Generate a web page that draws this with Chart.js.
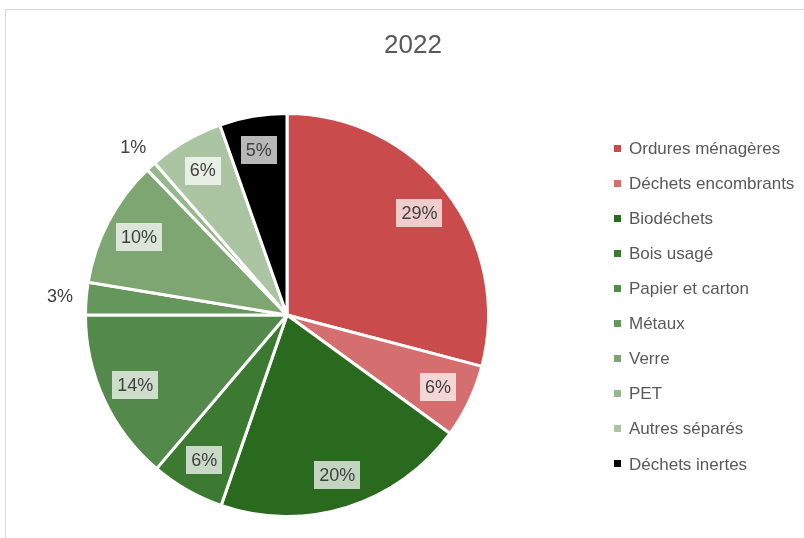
<!DOCTYPE html>
<html lang="fr">
<head>
<meta charset="utf-8">
<title>2022</title>
<script src="https://cdn.jsdelivr.net/npm/chart.js@4.4.1/dist/chart.umd.min.js"></script>
<style>
  html, body { margin: 0; padding: 0; background: #fff; overflow: hidden; }
  #wrap { position: absolute; left: 0; top: 0; width: 804px; height: 538px; }
  #cadre { position: absolute; left: 5px; top: 9px; width: 830px; height: 560px; border: 1px solid #d9d9d9; pointer-events: none; }
</style>
</head>
<body>
<div id="wrap"><canvas id="chart-dechets" width="804" height="538"></canvas></div>
<div id="cadre"></div>
<script>
// Composition des déchets 2022 – camembert

const titre = "2022";

const categories = [
  "Ordures ménagères",
  "Déchets encombrants",
  "Biodéchets",
  "Bois usagé",
  "Papier et carton",
  "Métaux",
  "Verre",
  "PET",
  "Autres séparés",
  "Déchets inertes",
];

// parts en %
const valeurs = [29.1, 5.9, 20.3, 5.9, 13.8, 2.6, 10.2, 0.8, 6.0, 5.4];

const couleurs = [
  "#CA4B4B",
  "#D56E6E",
  "#2A6A1E",
  "#3C7A32",
  "#53894A",
  "#65965B",
  "#7DA673",
  "#95B78B",
  "#ABC5A2",
  "#000000",
];

const POLICE = '"Liberation Sans Narrow", "Liberation Sans", Arial, sans-serif';

// Etiquettes de pourcentage (boîte blanche translucide dans la part, texte seul à l'extérieur pour les petites parts)
const etiquettesPlugin = {
  id: "etiquettes",
  afterDatasetsDraw(chart) {
    const ctx = chart.ctx;
    const meta = chart.getDatasetMeta(0);
    const total = valeurs.reduce((a, b) => a + b, 0);

    ctx.save();
    ctx.font = "18px " + POLICE;
    ctx.textAlign = "center";
    ctx.textBaseline = "middle";

    meta.data.forEach((arc, i) => {
      const p = arc.getProps(["x", "y", "startAngle", "endAngle", "outerRadius"], true);
      const pct = Math.round((valeurs[i] / total) * 100);
      const texte = pct + "%";
      const milieu = (p.startAngle + p.endAngle) / 2;
      const dehors = pct < 4;
      const dist = dehors ? p.outerRadius * 1.13 : p.outerRadius * 0.83;
      const lx = p.x + Math.cos(milieu) * dist;
      const ly = p.y + Math.sin(milieu) * dist;

      if (!dehors) {
        const w = ctx.measureText(texte).width + 10;
        const h = 28;
        ctx.fillStyle = "rgba(255,255,255,0.72)";
        ctx.fillRect(Math.round(lx - w / 2), Math.round(ly - h / 2), Math.round(w), h);
      }
      ctx.fillStyle = "#404040";
      ctx.fillText(texte, lx, ly + 1);
    });
    ctx.restore();
  },
};

// Titre + légende à droite (dessinés à la main pour garder le camembert à gauche)
const decorPlugin = {
  id: "decor",
  afterDraw(chart) {
    const ctx = chart.ctx;
    const couleursDs = chart.data.datasets[0].backgroundColor;
    ctx.save();

    ctx.fillStyle = "#595959";
    ctx.font = "26px " + POLICE;
    ctx.textAlign = "center";
    ctx.textBaseline = "middle";
    ctx.fillText(titre, 413, 46);

    ctx.font = "17px " + POLICE;
    ctx.textAlign = "left";
    const x0 = 614;
    const y0 = 148;
    const pas = 35.1;
    chart.data.labels.forEach((lab, i) => {
      const y = y0 + i * pas;
      ctx.fillStyle = couleursDs[i];
      ctx.fillRect(x0, Math.round(y - 3.5), 7, 7);
      ctx.fillStyle = "#595959";
      ctx.fillText(lab, 629, y + 1);
    });
    ctx.restore();
  },
};

const ctx = document.getElementById("chart-dechets").getContext("2d");

new Chart(ctx, {
  type: "pie",
  data: {
    labels: categories,
    datasets: [{
      data: valeurs,
      backgroundColor: couleurs,
      borderColor: "#ffffff",
      borderWidth: 3,
    }],
  },
  options: {
    responsive: false,
    devicePixelRatio: 1,
    animation: false,
    layout: {
      padding: { left: 84, right: 314, top: 112, bottom: 20 },
    },
    plugins: {
      legend: { display: false },
      tooltip: { enabled: false },
      title: { display: false },
    },
  },
  plugins: [etiquettesPlugin, decorPlugin],
});
</script>
</body>
</html>
